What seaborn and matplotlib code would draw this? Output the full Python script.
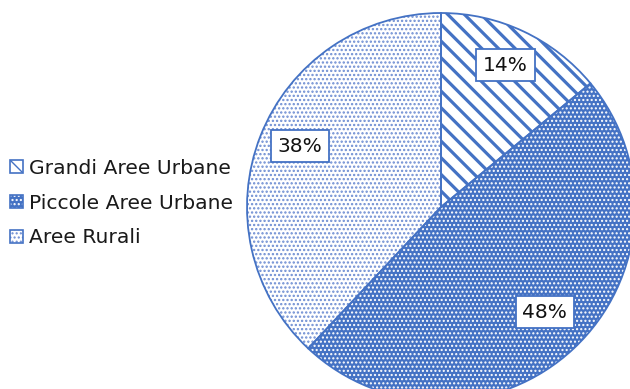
import matplotlib
matplotlib.use("Agg")
import matplotlib.pyplot as plt
import matplotlib.transforms as mtransforms
from matplotlib.patches import Patch
import seaborn as sns

categories = ["Grandi Aree Urbane", "Piccole Aree Urbane", "Aree Rurali"]
shares = [14, 48, 38]

BLUE = "#4472C4"
DOT_BLUE = "#6d8dd2"

sns.set_theme(style="white")
plt.rcParams["font.family"] = ["DejaVu Sans"]

fig = plt.figure(figsize=(6.3, 3.89), dpi=100)
W, H = 630, 389
cx, cy, r = 441, 207, 194
ax = fig.add_axes([(cx - r) / W, (H - cy - r) / H, 2 * r / W, 2 * r / H])

# fills and hatch textures per slice
faces = ["white", BLUE, "white"]
hatch_cols = [BLUE, "white", DOT_BLUE]
hatches = ["\\\\", "....", "...."]
hatch_lws = [2.3, 1.0, 1.1]

wedges, texts, autotexts = ax.pie(
    shares, startangle=90, counterclock=False, radius=1,
    autopct="%.0f%%", pctdistance=0.78,
    wedgeprops=dict(linewidth=0),
    textprops=dict(fontsize=14.5, color="#111111"),
)
for w, fc, hc, h, hlw in zip(wedges, faces, hatch_cols, hatches, hatch_lws):
    w.set_facecolor(fc)
    w.set_edgecolor(hc)
    w.set_hatch(h)
    if hasattr(w, "set_hatch_linewidth"):
        w.set_hatch_linewidth(hlw)

# slice outlines on top
outline, _ = ax.pie(
    shares, startangle=90, counterclock=False, radius=1,
    wedgeprops=dict(facecolor="none", edgecolor=BLUE, linewidth=1.3),
)

lift = mtransforms.ScaledTranslation(0, 5 / 100, fig.dpi_scale_trans)
for t in autotexts:
    t.set_bbox(dict(boxstyle="square,pad=0.33", facecolor="white",
                    edgecolor=BLUE, linewidth=1.3))
    t.set_zorder(10)
    t.set_transform(t.get_transform() + lift)

ax.set_xlim(-1, 1)
ax.set_ylim(-1, 1)
ax.set_aspect("equal")
ax.axis("off")

# legend keys: hatched square plus blue frame
handles = []
for fc, hc, h, hlw in zip(faces, hatch_cols, hatches, hatch_lws):
    p = Patch(facecolor=fc, edgecolor=hc, hatch=h, linewidth=0)
    if hasattr(p, "set_hatch_linewidth"):
        p.set_hatch_linewidth(min(hlw, 1.2))
    frame = Patch(facecolor="none", edgecolor=BLUE, linewidth=1.2)
    handles.append((p, frame))

fig.legend(
    handles, categories, loc="center left",
    bbox_to_anchor=(10 / W, 1 - 203 / H),
    frameon=False, fontsize=14.6, borderpad=0, borderaxespad=0,
    handlelength=0.62, handleheight=0.62, handletextpad=0.3,
    labelspacing=0.78, labelcolor="#1a1a1a",
)

fig.savefig("out.png", dpi=100)
